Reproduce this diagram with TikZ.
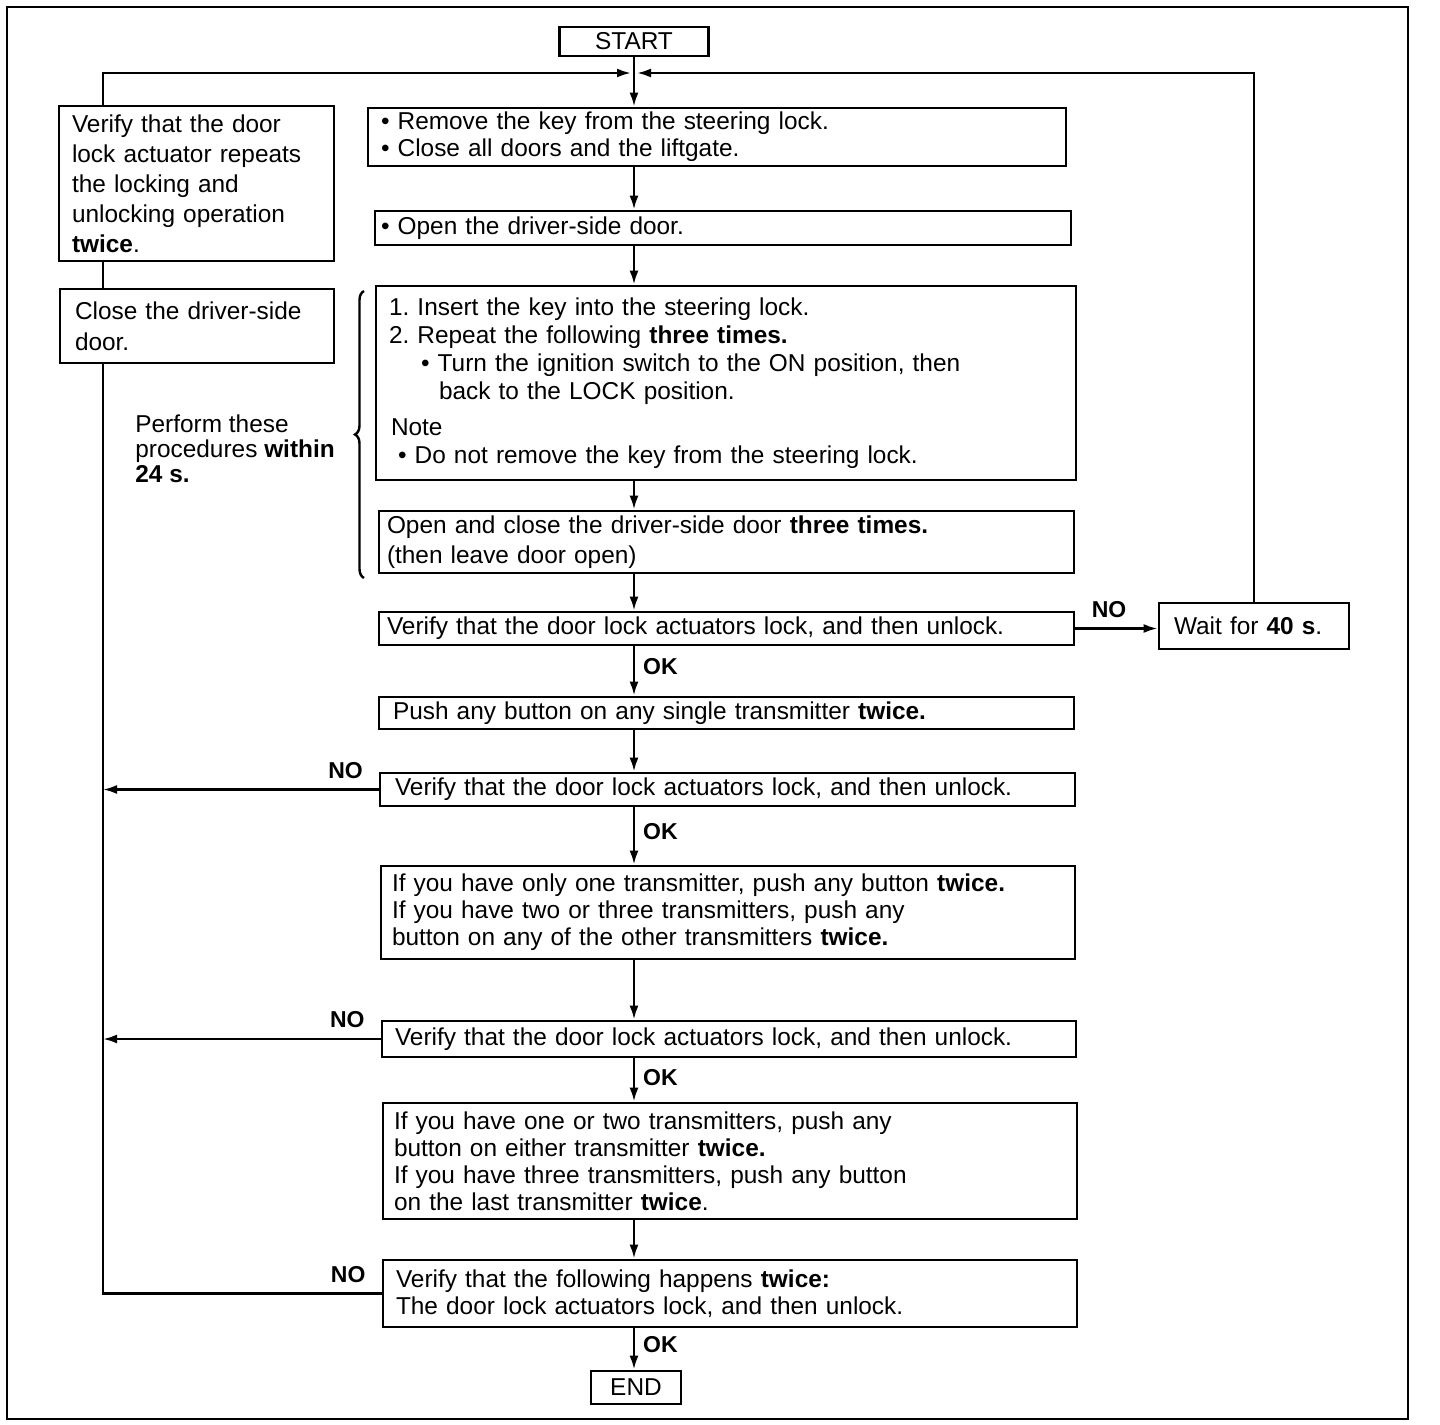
\documentclass[tikz,border=0pt]{standalone}
\usepackage{fontspec}
\setmainfont{Liberation Sans}
\frenchspacing
\usetikzlibrary{arrows.meta,decorations.pathreplacing}

\tikzset{
  lead/.style={font=\fontsize{12.2}{#1}\selectfont},
  box/.style={draw, line width=1.4pt, align=left, inner ysep=2pt, lead=13.5pt},
  lin/.style={line width=1.2pt},
  arr/.style={line width=1.2pt, -{Latex[length=7pt,width=4.5pt]}},
  lbl/.style={font=\fontsize{11.5}{13}\selectfont\bfseries, inner sep=1pt},
}

\begin{document}
\begin{tikzpicture}[x=0.5pt,y=-0.5pt]% 流程图: 1 单位 = 1 像素
\useasboundingbox (0,0) rectangle (1440,1424);
\draw[line width=1.2pt] (7,7) rectangle (1408,1419);
\coordinate (spine) at (634,0);
\coordinate (loopx) at (103,0);
\coordinate (topj) at (634,73);

\node[box, inner xsep=2pt, minimum width=74.5pt, minimum height=14.5pt, align=center] (start) at (634,41.5) {START};
\node[box, inner xsep=6.5pt, text width=124.5pt, minimum height=77.5pt, lead=15pt] (twice) at (196.5,183.5)
  {Verify that the door\\lock actuator repeats\\the locking and\\unlocking operation\\\textbf{twice}.};
\node[box, inner xsep=7.5pt, text width=122pt, minimum height=37pt, lead=15.5pt] (closed) at (197,326)
  {Close the driver-side\\door.};
\node[box, inner xsep=6.5pt, text width=336pt, minimum height=29pt] (remove) at (717,137)
  {• Remove the key from the steering lock.\\• Close all doors and the liftgate.};
\node[box, inner xsep=3pt, text width=342pt, minimum height=17pt] (opendoor) at (723,228)
  {• Open the driver-side door.};
\node[box, inner xsep=6.5pt, text width=337pt, minimum height=97pt, lead=14pt] (insert) at (726,383)
  {1. Insert the key into the steering lock.\\
   2. Repeat the following \textbf{three times.}\\
   \hspace*{16pt}• Turn the ignition switch to the ON position, then\\
   \hspace*{25pt}back to the LOCK position.\\[4pt]
   \hspace*{1pt}Note\\
   \hspace*{4.5pt}• Do not remove the key from the steering lock.};
\node[box, inner xsep=4pt, text width=339.5pt, minimum height=31pt, lead=15pt] (openclose) at (726.5,542)
  {Open and close the driver-side door \textbf{three times.}\\(then leave door open)};
\node[box, inner xsep=4pt, text width=339.5pt, minimum height=16.5pt] (verA) at (726.5,628.5)
  {Verify that the door lock actuators lock, and then unlock.};
\node[box, inner xsep=7.5pt, text width=80pt, minimum height=23pt] (wait) at (1254,626)
  {Wait for \textbf{40 s}.};
\node[box, inner xsep=7pt, text width=333.5pt, minimum height=16pt] (push) at (726.5,713)
  {Push any button on any single transmitter \textbf{twice.}};
\node[box, inner xsep=7.5pt, text width=332.5pt, minimum height=16.5pt] (verB) at (727.5,789.5)
  {Verify that the door lock actuators lock, and then unlock.};
\node[box, inner xsep=5.5pt, text width=336pt, minimum height=46.5pt] (onlyone) at (728,912.5)
  {If you have only one transmitter, push any button \textbf{twice.}\\
   If you have two or three transmitters, push any\\
   button on any of the other transmitters \textbf{twice.}};
\node[box, inner xsep=6.5pt, text width=334pt, minimum height=18pt] (verC) at (729,1039)
  {Verify that the door lock actuators lock, and then unlock.};
\node[box, inner xsep=5.5pt, text width=336pt, minimum height=58pt] (oneortwo) at (730,1161)
  {If you have one or two transmitters, push any\\
   button on either transmitter \textbf{twice.}\\
   If you have three transmitters, push any button\\
   on the last transmitter \textbf{twice}.};
\node[box, inner xsep=6.5pt, text width=334pt, minimum height=33.5pt] (verD) at (730,1293.5)
  {Verify that the following happens \textbf{twice:}\\The door lock actuators lock, and then unlock.};
\node[box, inner xsep=2pt, minimum width=45pt, minimum height=16.5pt, align=center] (end) at (636,1387.5) {END};

% 花括号与说明
\draw[lin, decorate, decoration={brace, amplitude=4.5pt}] (364,578) -- (364,291);
\node[anchor=west, align=left, inner sep=0pt, lead=12.5pt] (within) at (135,449)
  {Perform these\\procedures \textbf{within}\\\textbf{24 s.}};

% 主干
\draw[arr] (start.south) -- (remove.north -| spine);
\draw[arr] (remove.south -| spine) -- (opendoor.north -| spine);
\draw[arr] (opendoor.south -| spine) -- (insert.north -| spine);
\draw[arr] (insert.south -| spine) -- (openclose.north -| spine);
\draw[arr] (openclose.south -| spine) -- (verA.north -| spine);
\draw[arr] (verA.south -| spine) -- node[lbl, right=3pt, pos=0.42] {OK} (push.north -| spine);
\draw[arr] (push.south -| spine) -- (verB.north -| spine);
\draw[arr] (verB.south -| spine) -- node[lbl, right=3pt, pos=0.42] {OK} (onlyone.north -| spine);
\draw[arr] (onlyone.south -| spine) -- (verC.north -| spine);
\draw[arr] (verC.south -| spine) -- node[lbl, right=3pt, pos=0.45] {OK} (oneortwo.north -| spine);
\draw[arr] (oneortwo.south -| spine) -- (verD.north -| spine);
\draw[arr] (verD.south -| spine) -- node[lbl, right=3pt, pos=0.4] {OK} (end.north -| spine);

% 回路
\draw[arr] (verA.east) -- node[lbl, above=4pt, pos=0.41] {NO} (verA.east -| wait.west);
\draw[arr, shorten >=1.5pt] (wait.north) |- (topj);
\draw[arr] (verB.west) -- node[lbl, above=4pt, pos=0.12] {NO} (verB.west -| loopx);
\draw[arr] (verC.west) -- node[lbl, above=4pt, pos=0.12] {NO} (verC.west -| loopx);
\draw[lin] (verD.west) -- node[lbl, above=4pt, pos=0.12] {NO} (verD.west -| loopx) -- (closed.south -| loopx);
\draw[lin] (closed.north -| loopx) -- (twice.south -| loopx);
\draw[arr, shorten >=1.5pt] (twice.north -| loopx) |- (topj);
\end{tikzpicture}
\end{document}
